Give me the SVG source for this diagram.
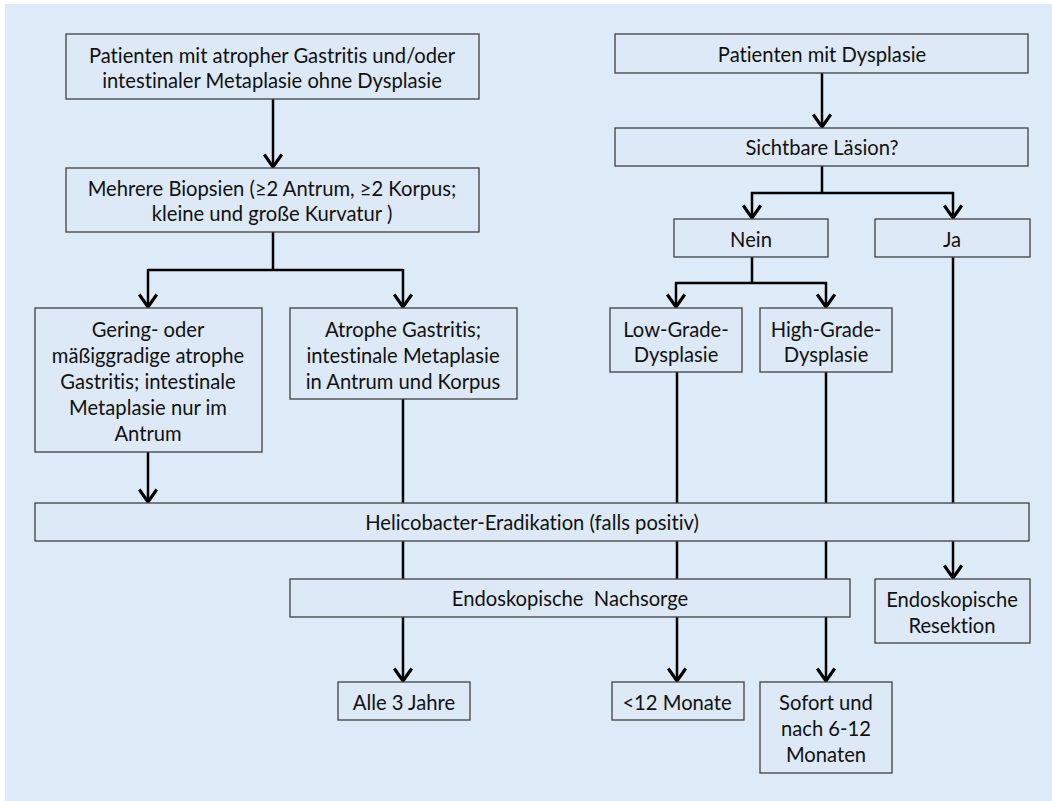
<svg xmlns="http://www.w3.org/2000/svg" width="1052" height="801" viewBox="0 0 1052 801">
<style>
.box{fill:#dde9f7;stroke:#404040;stroke-width:1.3}
.t{font-family:Lato,"Liberation Sans",sans-serif;font-size:20.2px;fill:#111;text-anchor:middle;dominant-baseline:central;font-variant-ligatures:none;font-feature-settings:"liga" 0}
.c{fill:none;stroke:#000;stroke-width:2.5}
.a{marker-end:url(#ah)}
</style>
<defs>
<marker id="ah" markerUnits="userSpaceOnUse" markerWidth="20" markerHeight="20" viewBox="-1 -8 12 16" refX="10" refY="0" orient="auto">
<path d="M0,-7 L10,0 L0,7" fill="none" stroke="#000" stroke-width="2.5"/>
</marker>
</defs>
<rect x="0" y="0" width="1052" height="801" fill="#ffffff"/>
<rect x="5" y="4" width="1047" height="797" fill="#ddeaf7"/>
<g id="connectors">
<path class="c a" d="M273,99 V167"/>
<path class="c" d="M273,232 V270 M148,270 H403"/>
<path class="c a" d="M148,269 V307"/>
<path class="c a" d="M403,269 V307"/>
<path class="c a" d="M148,452 V502"/>
<path class="c" d="M403,399 V503"/>
<path class="c a" d="M822,73 V127"/>
<path class="c" d="M822,166 V193 M751,193 H954"/>
<path class="c a" d="M752,192 V218"/>
<path class="c a" d="M953,192 V218"/>
<path class="c" d="M752,257 V283 M675,283 H827"/>
<path class="c a" d="M676,282 V307"/>
<path class="c a" d="M826,282 V307"/>
<path class="c" d="M677,372 V503"/>
<path class="c" d="M826,372 V503"/>
<path class="c" d="M953,257 V503"/>
<path class="c" d="M403,541 V579"/>
<path class="c" d="M677,541 V579"/>
<path class="c" d="M826,541 V579"/>
<path class="c a" d="M953,541 V578"/>
<path class="c a" d="M403,617 V681"/>
<path class="c a" d="M677,617 V681"/>
<path class="c a" d="M826,617 V681"/>
</g>
<g id="n1"><rect class="box" x="66" y="34" width="413" height="65"/><text class="t" x="272" y="55">Patienten mit atropher Gastritis und/oder</text><text class="t" x="272" y="80">intestinaler Metaplasie ohne Dysplasie</text></g>
<g id="n2"><rect class="box" x="66" y="168" width="413" height="64"/><text class="t" x="272" y="188">Mehrere Biopsien (≥2 Antrum, ≥2 Korpus;</text><text class="t" x="272" y="213">kleine und große Kurvatur )</text></g>
<g id="n3"><rect class="box" x="35" y="308" width="227" height="144"/><text class="t" x="148" y="329">Gering- oder</text><text class="t" x="148" y="355">mäßiggradige atrophe</text><text class="t" x="148" y="381">Gastritis; intestinale</text><text class="t" x="148" y="407">Metaplasie nur im</text><text class="t" x="148" y="433">Antrum</text></g>
<g id="n4"><rect class="box" x="290" y="308" width="227" height="91"/><text class="t" x="403" y="329">Atrophe Gastritis;</text><text class="t" x="403" y="355">intestinale Metaplasie</text><text class="t" x="403" y="381">in Antrum und Korpus</text></g>
<g id="n5"><rect class="box" x="615" y="34" width="413" height="39"/><text class="t" x="822" y="54">Patienten mit Dysplasie</text></g>
<g id="n6"><rect class="box" x="615" y="128" width="413" height="38"/><text class="t" x="822" y="147">Sichtbare Läsion?</text></g>
<g id="n7"><rect class="box" x="674" y="219" width="154" height="38"/><text class="t" x="751" y="239">Nein</text></g>
<g id="n8"><rect class="box" x="875" y="219" width="155" height="38"/><text class="t" x="952" y="239">Ja</text></g>
<g id="n9"><rect class="box" x="610" y="308" width="132" height="64"/><text class="t" x="676" y="329">Low-Grade-</text><text class="t" x="676" y="354">Dysplasie</text></g>
<g id="n10"><rect class="box" x="760" y="308" width="132" height="64"/><text class="t" x="826" y="329">High-Grade-</text><text class="t" x="826" y="354">Dysplasie</text></g>
<g id="n11"><rect class="box" x="35" y="503" width="994" height="38"/><text class="t" x="532" y="522">Helicobacter-Eradikation (falls positiv)</text></g>
<g id="n12"><rect class="box" x="290" y="579" width="560" height="38"/><text class="t" x="570" y="598" xml:space="preserve">Endoskopische  Nachsorge</text></g>
<g id="n13"><rect class="box" x="875" y="579" width="155" height="64"/><text class="t" x="952" y="599">Endoskopische</text><text class="t" x="952" y="625">Resektion</text></g>
<g id="n14"><rect class="box" x="338" y="682" width="132" height="38"/><text class="t" x="404" y="702">Alle 3 Jahre</text></g>
<g id="n15"><rect class="box" x="612" y="682" width="132" height="38"/><text class="t" x="677" y="702">&lt;12 Monate</text></g>
<g id="n16"><rect class="box" x="760" y="682" width="132" height="91"/><text class="t" x="826" y="702">Sofort und</text><text class="t" x="826" y="728">nach 6-12</text><text class="t" x="826" y="754">Monaten</text></g>
</svg>
